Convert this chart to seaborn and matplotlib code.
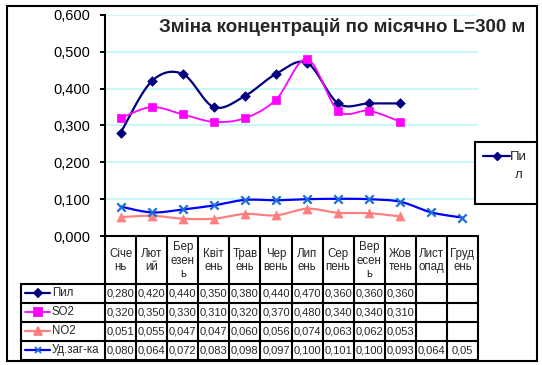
import numpy as np
import pandas as pd
import matplotlib
matplotlib.use('Agg')
import matplotlib.pyplot as plt
from matplotlib.patches import Rectangle
import seaborn as sns

# =============================================================================
# Data
# =============================================================================

month_labels = ['Січе\nнь', 'Лют\nий', 'Бер\nезен\nь', 'Квіт\nень', 'Трав\nень', 'Чер\nвень',
                'Лип\nень', 'Сер\nпень', 'Вер\nесен\nь', 'Жов\nтень', 'Лист\nопад', 'Груд\nень']
series_names = ['Пил', 'SO2', 'NO2', 'Уд.заг-ка']

pil = [0.280, 0.420, 0.440, 0.350, 0.380, 0.440, 0.470, 0.360, 0.360, 0.360]
so2 = [0.320, 0.350, 0.330, 0.310, 0.320, 0.370, 0.480, 0.340, 0.340, 0.310]
no2 = [0.051, 0.055, 0.047, 0.047, 0.060, 0.056, 0.074, 0.063, 0.062, 0.053]
udz = [0.080, 0.064, 0.072, 0.083, 0.098, 0.097, 0.100, 0.101, 0.100, 0.093, 0.064, 0.05]
udz_decimals = [3] * 11 + [2]

y_ticks = [0.0, 0.1, 0.2, 0.3, 0.4, 0.5, 0.6]
title = 'Зміна концентрацій по місячно L=300 м'

# =============================================================================
# Styles
# =============================================================================

sns.set_style('white')
plt.rcParams['font.family'] = ['Liberation Sans', 'DejaVu Sans']

styles = [
    dict(line='#000080', face='#000080', marker='D', s=24, lw=1.6),
    dict(line='#FF00FF', face='#FF00FF', marker='s', s=40, lw=1.3),
    dict(line='#FF8080', face='#FF8080', marker='^', s=42, lw=1.6),
    dict(line='#0000FF', face='#1a6fd6', marker='x', s=36, lw=1.6),
]
all_series = [pil, so2, no2, udz]


def smooth(vals, n=24):
    # Excel-style smoothed line (Bezier through the points)
    p = np.column_stack([np.arange(len(vals), dtype=float), np.asarray(vals, float)])
    pad = np.vstack([p[0], p, p[-1]])
    t = np.linspace(0, 1, n)[:, None]
    out = [p[:1]]
    for i in range(len(p) - 1):
        p0, p3 = p[i], p[i + 1]
        p1 = p0 + (pad[i + 2] - pad[i]) / 6
        p2 = p3 - (pad[i + 3] - pad[i + 1]) / 6
        seg = (1 - t) ** 3 * p0 + 3 * (1 - t) ** 2 * t * p1 + 3 * (1 - t) * t ** 2 * p2 + t ** 3 * p3
        out.append(seg[1:])
    return pd.DataFrame(np.vstack(out), columns=['x', 'y'])


W, H = 542, 365
fig = plt.figure(figsize=(W / 100, H / 100), dpi=100)
fig.patch.set_facecolor('white')

# plot area in pixels
px_l, px_r, px_t, px_b = 105, 478, 15, 236
ax = fig.add_axes([px_l / W, (H - px_b) / H, (px_r - px_l) / W, (px_b - px_t) / H])
ax.set_xlim(-0.5, 11.5)
ax.set_ylim(0, 0.6)

for k, (vals, st) in enumerate(zip(all_series, styles)):
    sns.lineplot(data=smooth(vals), x='x', y='y', sort=False, estimator=None,
                 color=st['line'], lw=st['lw'], ax=ax, zorder=3 + 2 * k)
    pts = pd.DataFrame({'x': np.arange(len(vals)), 'y': vals})
    if st['marker'] == 'x':
        sns.scatterplot(data=pts, x='x', y='y', marker='x', s=st['s'], color=st['face'],
                        linewidth=1.6, ax=ax, zorder=4 + 2 * k)
    else:
        sns.scatterplot(data=pts, x='x', y='y', marker=st['marker'], s=st['s'], color=st['face'],
                        edgecolor=st['face'], linewidth=0.5, ax=ax, zorder=4 + 2 * k)

ax.set_yticks(y_ticks)
ax.set_yticklabels([f"{v:.3f}".replace('.', ',') for v in y_ticks])
ax.set_xticks([])
ax.set_xlabel('')
ax.set_ylabel('')
ax.yaxis.grid(True, color='#c4f8f8', lw=1.3)
ax.set_axisbelow(True)
ax.tick_params(axis='y', direction='out', length=3.6, width=1.4, pad=7, labelsize=10.5,
               left=True, colors='black')
for sp in ['top', 'right', 'bottom']:
    ax.spines[sp].set_visible(False)
ax.spines['left'].set_linewidth(1.5)
ax.spines['left'].set_color('black')

# =============================================================================
# Overlay in pixel coordinates: data table, legend, title, border
# =============================================================================

ov = fig.add_axes([0, 0, 1, 1], zorder=5)
ov.set_xlim(0, W)
ov.set_ylim(H, 0)
ov.axis('off')
ov.patch.set_alpha(0)

lw = 1.5
col_edges = np.linspace(px_l, px_r, 13)
col_mid = (col_edges[:-1] + col_edges[1:]) / 2
row_edges = [236, 284, 302.7, 321.7, 340.7, 360]
leg_l = 20.5

# header row
ov.plot([px_l, px_r], [row_edges[0]] * 2, color='black', lw=lw)
for x in col_edges:
    ov.plot([x, x], [row_edges[0], row_edges[-1]], color='black', lw=lw)
for y in row_edges[1:]:
    ov.plot([leg_l, px_r], [y, y], color='black', lw=lw)
ov.plot([leg_l, leg_l], [row_edges[1], row_edges[-1]], color='black', lw=lw)

for xm, lab in zip(col_mid, month_labels):
    ov.text(xm, (row_edges[0] + row_edges[1]) / 2 + 0.5, lab, ha='center', va='center',
            fontsize=8.3, linespacing=1.15)

for r, (name, vals, st) in enumerate(zip(series_names, all_series, styles)):
    yc = (row_edges[r + 1] + row_edges[r + 2]) / 2
    ov.plot([25, 50], [yc, yc], color=st['line'], lw=st['lw'])
    ms = {'D': 4.5, 's': 5.5, '^': 6, 'x': 5}[st['marker']]
    ov.plot([37.5], [yc], marker=st['marker'], ms=ms, color=st['face'], mew=1.3)
    ov.text(52, yc, name, ha='left', va='center', fontsize=8.3)
    for j, v in enumerate(vals):
        dec = udz_decimals[j] if name == 'Уд.заг-ка' else 3
        ov.text(col_mid[j], yc + 0.5, f"{v:.{dec}f}".replace('.', ','), ha='center', va='center',
                fontsize=8)

# right-hand legend box
ov.add_patch(Rectangle((475, 142), 62, 62, facecolor='white', edgecolor='black', lw=lw, zorder=2))
ov.plot([483, 510], [156, 156], color=styles[0]['line'], lw=1.6, zorder=3)
ov.plot([496.5], [156], marker='D', ms=4.5, color=styles[0]['face'], zorder=3)
ov.text(510, 156.5, 'Пи', ha='left', va='center', fontsize=9.5, zorder=3)
ov.text(515, 174.5, 'л', ha='left', va='center', fontsize=9.5, zorder=3)

ov.text(342, 27, title, ha='center', va='center', fontsize=13.5, fontweight='bold')

# outer frame
ov.add_patch(Rectangle((7, 6), 530, 355, fill=False, edgecolor='black', lw=lw))

plt.savefig('out.png', dpi=100)
